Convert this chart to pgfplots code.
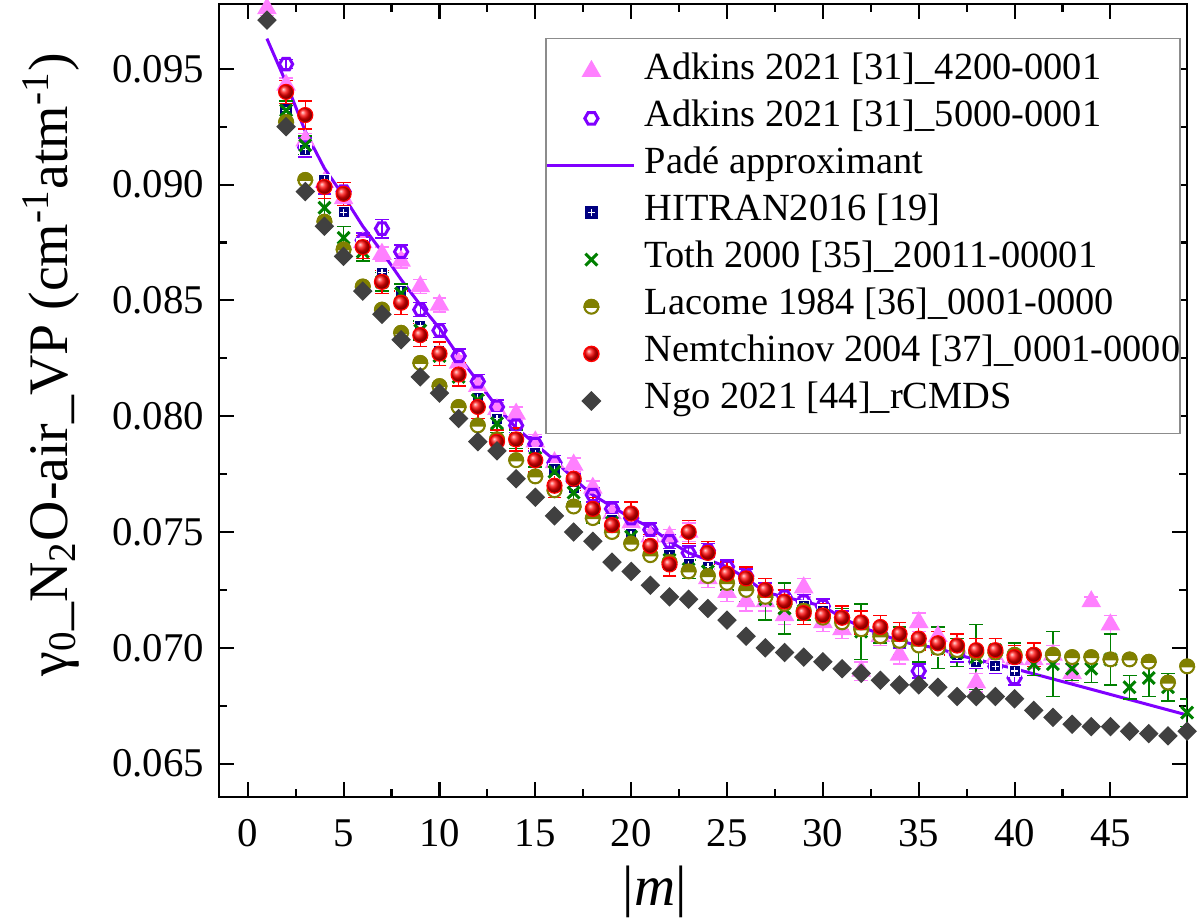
\documentclass[border=0pt]{standalone}
\usepackage{fontspec}
\setmainfont{Liberation Serif}
\usepackage{pgfplots}
\pgfplotsset{compat=1.18}
\usepackage{pgfplotstable}
\usetikzlibrary{plotmarks}
\definecolor{cpink}{RGB}{255,128,255}
\definecolor{cpurple}{RGB}{128,0,255}
\definecolor{cnavy}{RGB}{0,0,128}
\definecolor{cgreen}{RGB}{0,128,0}
\definecolor{colive}{RGB}{128,128,0}
\definecolor{cred}{RGB}{255,0,0}
\definecolor{cgray}{RGB}{64,64,64}

\pgfdeclareplotmark{hexagon}{%
  \pgfpathmoveto{\pgfqpointpolar{0}{\pgfplotmarksize}}%
  \pgfpathlineto{\pgfqpointpolar{60}{\pgfplotmarksize}}%
  \pgfpathlineto{\pgfqpointpolar{120}{\pgfplotmarksize}}%
  \pgfpathlineto{\pgfqpointpolar{180}{\pgfplotmarksize}}%
  \pgfpathlineto{\pgfqpointpolar{240}{\pgfplotmarksize}}%
  \pgfpathlineto{\pgfqpointpolar{300}{\pgfplotmarksize}}%
  \pgfpathclose\pgfusepathqstroke}
\pgfdeclareplotmark{gridsquare}{%
  \pgfpathrectangle{\pgfqpoint{-\pgfplotmarksize}{-\pgfplotmarksize}}{\pgfqpoint{2\pgfplotmarksize}{2\pgfplotmarksize}}%
  \pgfusepathqfillstroke
  \pgfsetstrokecolor{white}\pgfsetlinewidth{0.45pt}%
  \pgfpathmoveto{\pgfqpoint{-0.65\pgfplotmarksize}{0pt}}%
  \pgfpathlineto{\pgfqpoint{0.65\pgfplotmarksize}{0pt}}%
  \pgfpathmoveto{\pgfqpoint{0pt}{-0.65\pgfplotmarksize}}%
  \pgfpathlineto{\pgfqpoint{0pt}{0.65\pgfplotmarksize}}%
  \pgfusepathqstroke}
\pgfdeclareplotmark{halfo}{%
  \pgfsetfillcolor{white}%
  \pgfpathcircle{\pgfpointorigin}{\pgfplotmarksize}%
  \pgfusepathqfillstroke
  \pgfsetfillcolor{colive}%
  \pgfpathmoveto{\pgfqpoint{\pgfplotmarksize}{0pt}}%
  \pgfpatharc{0}{180}{\pgfplotmarksize}%
  \pgfpathclose
  \pgfusepathqfillstroke}

\pgfplotsset{
  legmark/.style={legend image code/.code={%
      \path[draw=none, fill=none] (0pt,-4pt) rectangle (29pt,4pt);
      \draw[##1] plot coordinates {(14.7pt,0pt)};}},
  legline/.style={legend image code/.code={%
      \draw[##1] (0pt,0pt) -- (29pt,0pt);}},
}

% Adkins 2021 4200-0001
\pgfplotstableread{
m v e
1 0.0976 0.0003
2 0.0943 0.0003
3 0.0919 0.0003
4 0.0901 0.0003
5 0.0894 0.0003
6 0.0875 0.0003
7 0.0870 0.0003
8 0.0867 0.0003
9 0.0856 0.0003
10 0.0848 0.0003
11 0.0823 0.0003
12 0.0813 0.0003
13 0.0803 0.0003
14 0.0801 0.0003
15 0.0789 0.0003
16 0.0780 0.0003
17 0.0779 0.0003
18 0.0769 0.0003
19 0.0758 0.0003
20 0.0754 0.0003
21 0.0748 0.0003
22 0.0748 0.0003
23 0.0750 0.0004
24 0.0730 0.0004
25 0.0724 0.0004
26 0.0720 0.0004
27 0.0720 0.0004
28 0.0714 0.0004
29 0.0726 0.0004
30 0.0711 0.0004
31 0.0708 0.0004
32 0.0690 0.0004
33 0.0705 0.0004
34 0.0697 0.0004
35 0.0711 0.0004
36 0.0705 0.0004
37 0.0700 0.0004
38 0.0685 0.0004
39 0.0696 0.0004
40 0.0695 0.0004
41 0.0695 0.0004
42 0.0697 0.0004
43 0.0689 0.0004
44 0.0720 0.0002
45 0.0710 0.0004
}\adkA

% Adkins 2021 5000-0001
\pgfplotstableread{
m v e
2 0.0952 0.0002
3 0.0916 0.0004
4 0.0899 0.0003
5 0.0897 0.0004
6 0.0876 0.0003
7 0.0881 0.0004
8 0.0871 0.0003
9 0.0846 0.0003
10 0.0837 0.0003
11 0.0826 0.0003
12 0.0815 0.0003
13 0.0804 0.0003
14 0.0796 0.0003
15 0.0788 0.0003
16 0.0780 0.0003
17 0.0772 0.0003
18 0.0766 0.0003
19 0.0760 0.0003
20 0.0756 0.0003
21 0.0751 0.0003
22 0.0746 0.0003
23 0.0741 0.0003
24 0.0742 0.0003
25 0.0735 0.0003
26 0.0731 0.0003
27 0.0725 0.0003
28 0.0722 0.0003
29 0.0720 0.0003
30 0.0718 0.0003
31 0.0713 0.0003
32 0.0709 0.0003
33 0.0706 0.0003
34 0.0703 0.0003
35 0.0690 0.0003
36 0.0700 0.0003
37 0.0697 0.0003
38 0.0694 0.0003
39 0.0692 0.0003
40 0.0687 0.0003
}\adkB

% Pade approximant
\pgfplotstableread{
m v
1 0.0963
2 0.0944
3 0.0923
4 0.0907
5 0.0895
6 0.0882
7 0.0871
8 0.0859
9 0.0848
10 0.0838
11 0.0826
12 0.0815
13 0.0804
14 0.0795
15 0.0788
16 0.0781
17 0.0773
18 0.0766
19 0.0761
20 0.0756
21 0.0752
22 0.0746
23 0.0741
24 0.0738
25 0.0735
26 0.0730
27 0.0724
28 0.0722
29 0.0720
30 0.0718
31 0.0713
32 0.0709
33 0.0706
34 0.0703
35 0.0701
36 0.0700
37 0.0697
38 0.0695
39 0.0693
40 0.0691
49 0.0671
}\pade

% HITRAN2016
\pgfplotstableread{
m v
2 0.0932
3 0.0915
4 0.0902
5 0.0888
6 0.0874
7 0.0862
8 0.0854
9 0.0839
10 0.0828
11 0.0818
12 0.0808
13 0.0799
14 0.0791
15 0.0784
16 0.0777
17 0.0769
18 0.0760
19 0.0755
20 0.0749
21 0.0745
22 0.0740
23 0.0736
24 0.0735
25 0.0731
26 0.0728
27 0.0724
28 0.0720
29 0.0718
30 0.0716
31 0.0712
32 0.0709
33 0.0706
34 0.0703
35 0.0701
36 0.0699
37 0.0697
38 0.0694
39 0.0692
40 0.0690
}\hitran

% Toth 2000
\pgfplotstableread{
m v e
2 0.0932 0.0004
3 0.0917 0.0004
4 0.0890 0.0004
5 0.0877 0.0005
6 0.0871 0.0004
7 0.0858 0.0004
8 0.0853 0.0004
9 0.0837 0.0004
10 0.0826 0.0004
11 0.0817 0.0004
12 0.0807 0.0004
13 0.0797 0.0004
14 0.0790 0.0004
15 0.0782 0.0004
16 0.0776 0.0004
17 0.0767 0.0004
18 0.0758 0.0004
19 0.0754 0.0004
20 0.0748 0.0004
21 0.0743 0.0004
22 0.0738 0.0004
23 0.0734 0.0004
24 0.0733 0.0004
25 0.0729 0.0004
26 0.0726 0.0006
27 0.0721 0.0009
28 0.0717 0.0011
29 0.0716 0.0004
30 0.0714 0.0004
31 0.0712 0.0005
32 0.0707 0.0012
33 0.0706 0.0004
34 0.0703 0.0006
35 0.0702 0.0008
36 0.0700 0.0009
37 0.0698 0.0006
38 0.0696 0.0014
39 0.0699 0.0005
40 0.0696 0.0006
41 0.0693 0.0005
42 0.0693 0.0014
43 0.0691 0.0005
44 0.0691 0.0006
45 0.0695 0.0011
46 0.0683 0.0005
47 0.0687 0.0008
48 0.0683 0.0006
49 0.0672 0.0006
}\toth

% Lacome 1984
\pgfplotstableread{
m v
2 0.0927
3 0.0902
4 0.0884
5 0.0872
6 0.0856
7 0.0846
8 0.0836
9 0.0823
10 0.0813
11 0.0804
12 0.0796
13 0.0790
14 0.0781
15 0.0774
16 0.0768
17 0.0761
18 0.0756
19 0.0750
20 0.0745
21 0.0740
22 0.0737
23 0.0733
24 0.0731
25 0.0728
26 0.0725
27 0.0722
28 0.0719
29 0.0716
30 0.0713
31 0.0711
32 0.0708
33 0.0705
34 0.0703
35 0.0701
36 0.0700
37 0.0699
38 0.0698
39 0.0698
40 0.0697
41 0.0697
42 0.0697
43 0.0696
44 0.0696
45 0.0695
46 0.0695
47 0.0694
48 0.0685
49 0.0692
}\lacome

% Nemtchinov 2004
\pgfplotstableread{
m v e
2 0.0940 0.0005
3 0.0930 0.0006
4 0.0899 0.0005
5 0.0896 0.0005
6 0.0873 0.0005
7 0.0858 0.0005
8 0.0849 0.0005
9 0.0835 0.0005
10 0.0827 0.0005
11 0.0818 0.0005
12 0.0804 0.0005
13 0.0789 0.0005
14 0.0790 0.0005
15 0.0781 0.0005
16 0.0770 0.0005
17 0.0773 0.0005
18 0.0760 0.0005
19 0.0753 0.0005
20 0.0758 0.0005
21 0.0744 0.0005
22 0.0736 0.0005
23 0.0750 0.0005
24 0.0741 0.0005
25 0.0732 0.0005
26 0.0730 0.0005
27 0.0725 0.0005
28 0.0720 0.0005
29 0.0715 0.0005
30 0.0714 0.0005
31 0.0713 0.0005
32 0.0711 0.0005
33 0.0709 0.0005
34 0.0706 0.0005
35 0.0704 0.0005
36 0.0702 0.0005
37 0.0701 0.0005
38 0.0699 0.0005
39 0.0699 0.0005
40 0.0696 0.0005
41 0.0697 0.0005
}\nemt

% Ngo 2021 rCMDS
\pgfplotstableread{
m v
1 0.0971
2 0.0925
3 0.0897
4 0.0882
5 0.0869
6 0.0854
7 0.0844
8 0.0833
9 0.0817
10 0.0810
11 0.0799
12 0.0789
13 0.0785
14 0.0773
15 0.0765
16 0.0757
17 0.0750
18 0.0746
19 0.0737
20 0.0733
21 0.0727
22 0.0722
23 0.0721
24 0.0717
25 0.0712
26 0.0705
27 0.0700
28 0.0698
29 0.0696
30 0.0694
31 0.0691
32 0.0689
33 0.0686
34 0.0684
35 0.0684
36 0.0683
37 0.0679
38 0.0679
39 0.0679
40 0.0678
41 0.0673
42 0.0670
43 0.0667
44 0.0666
45 0.0666
46 0.0664
47 0.0663
48 0.0662
49 0.0664
}\ngo

\begin{document}
\begin{tikzpicture}
\begin{axis}[
  width=322.7pt, height=264.3pt, scale only axis,
  xmin=-1.5, xmax=49, ymin=0.06357, ymax=0.0978,
  xtick={0,5,10,15,20,25,30,35,40,45},
  ytick={0.065,0.070,0.075,0.080,0.085,0.090,0.095},
  minor x tick num=1, minor y tick num=1,
  tick align=inside,
  major tick length=5pt, minor tick length=2.7pt,
  axis line style={line width=0.7pt},
  every tick/.style={black, line width=0.7pt},
  scaled y ticks=false,
  /pgf/number format/assume math mode=true,
  yticklabel style={/pgf/number format/fixed, /pgf/number format/fixed zerofill, /pgf/number format/precision=3, font=\fontsize{13.6}{13.6}\selectfont, xshift=-1.5pt},
  xticklabel style={font=\fontsize{13.6}{13.6}\selectfont, yshift=-4pt},
  xlabel={|\textit{m}|},
  xlabel style={font=\fontsize{19}{19}\selectfont, at={(axis description cs:0.45,-0.12)}, anchor=center},
  ylabel={γ\textsubscript{0}\_N\textsubscript{2}O-air\_VP (cm\textsuperscript{-1}atm\textsuperscript{-1})},
  ylabel style={font=\fontsize{18.6}{18.6}\selectfont, at={(axis description cs:-0.1735,0.545)}, anchor=center},
  legend cell align=left,
  legend style={at={(axis description cs:0.3368,0.957)}, anchor=north west,
    draw=black!45, line width=0.5pt, inner xsep=0pt, inner ysep=3pt,
    font=\fontsize{12.8}{12.8}\selectfont,
    nodes={inner sep=0pt, text height=10.5pt, text depth=5.2pt},
    column sep=3pt, row sep=0pt},
]
\addplot[only marks, mark=triangle*, mark size=3.2pt, color=cpink, mark options={fill=cpink, draw=cpink, line width=0.6pt}, legmark,
  error bars/.cd, y dir=both, y explicit,
  error bar style={color=cpink, line width=0.5pt},
  error mark options={rotate=90, mark size=2.3pt, color=cpink, line width=0.5pt}]
  table[x=m, y=v, y error=e] {\adkA};
\addlegendentry{Adkins 2021 [31]\_4200-0001}

\addplot[only marks, mark=hexagon, mark size=2.2pt, color=cpurple, mark options={line width=1pt}, legmark,
  error bars/.cd, y dir=both, y explicit,
  error bar style={color=cpurple, line width=0.5pt},
  error mark options={rotate=90, mark size=2.3pt, color=cpurple, line width=0.5pt}]
  table[x=m, y=v, y error=e] {\adkB};
\addlegendentry{Adkins 2021 [31]\_5000-0001}

\addplot[no marks, color=cpurple, line width=1pt, legline] table[x=m, y=v] {\pade};
\addlegendentry{Padé approximant}

\addplot[only marks, mark=gridsquare, mark size=1.9pt, color=cnavy, mark options={fill=cnavy, line width=0.4pt}, legmark]
  table[x=m, y=v] {\hitran};
\addlegendentry{HITRAN2016 [19]}

\addplot[only marks, mark=x, mark size=2.8pt, color=cgreen, mark options={line width=1pt}, legmark,
  error bars/.cd, y dir=both, y explicit,
  error bar style={color=cgreen, line width=0.5pt},
  error mark options={rotate=90, mark size=2.3pt, color=cgreen, line width=0.5pt}]
  table[x=m, y=v, y error=e] {\toth};
\addlegendentry{Toth 2000 [35]\_20011-00001}

\addplot[only marks, mark=halfo, mark size=2.3pt, color=colive, mark options={line width=0.7pt}, legmark]
  table[x=m, y=v] {\lacome};
\addlegendentry{Lacome 1984 [36]\_0001-0000}

\addplot[only marks, mark=ball, mark size=2.5pt, color=cred, mark options={ball color=cred}, legmark,
  error bars/.cd, y dir=both, y explicit,
  error bar style={color=cred, line width=0.5pt},
  error mark options={rotate=90, mark size=2.3pt, color=cred, line width=0.5pt}]
  table[x=m, y=v, y error=e] {\nemt};
\addlegendentry{Nemtchinov 2004 [37]\_0001-0000}

\addplot[only marks, mark=square*, mark size=2.1pt, color=cgray, mark options={rotate=45, fill=cgray}, legmark]
  table[x=m, y=v] {\ngo};
\addlegendentry{Ngo 2021 [44]\_rCMDS}
\end{axis}
\pgfresetboundingbox
\path ([shift={(-73pt,-42.3pt)}]current axis.south west) rectangle ([shift={(4.3pt,1.3pt)}]current axis.north east);
\end{tikzpicture}
\end{document}
